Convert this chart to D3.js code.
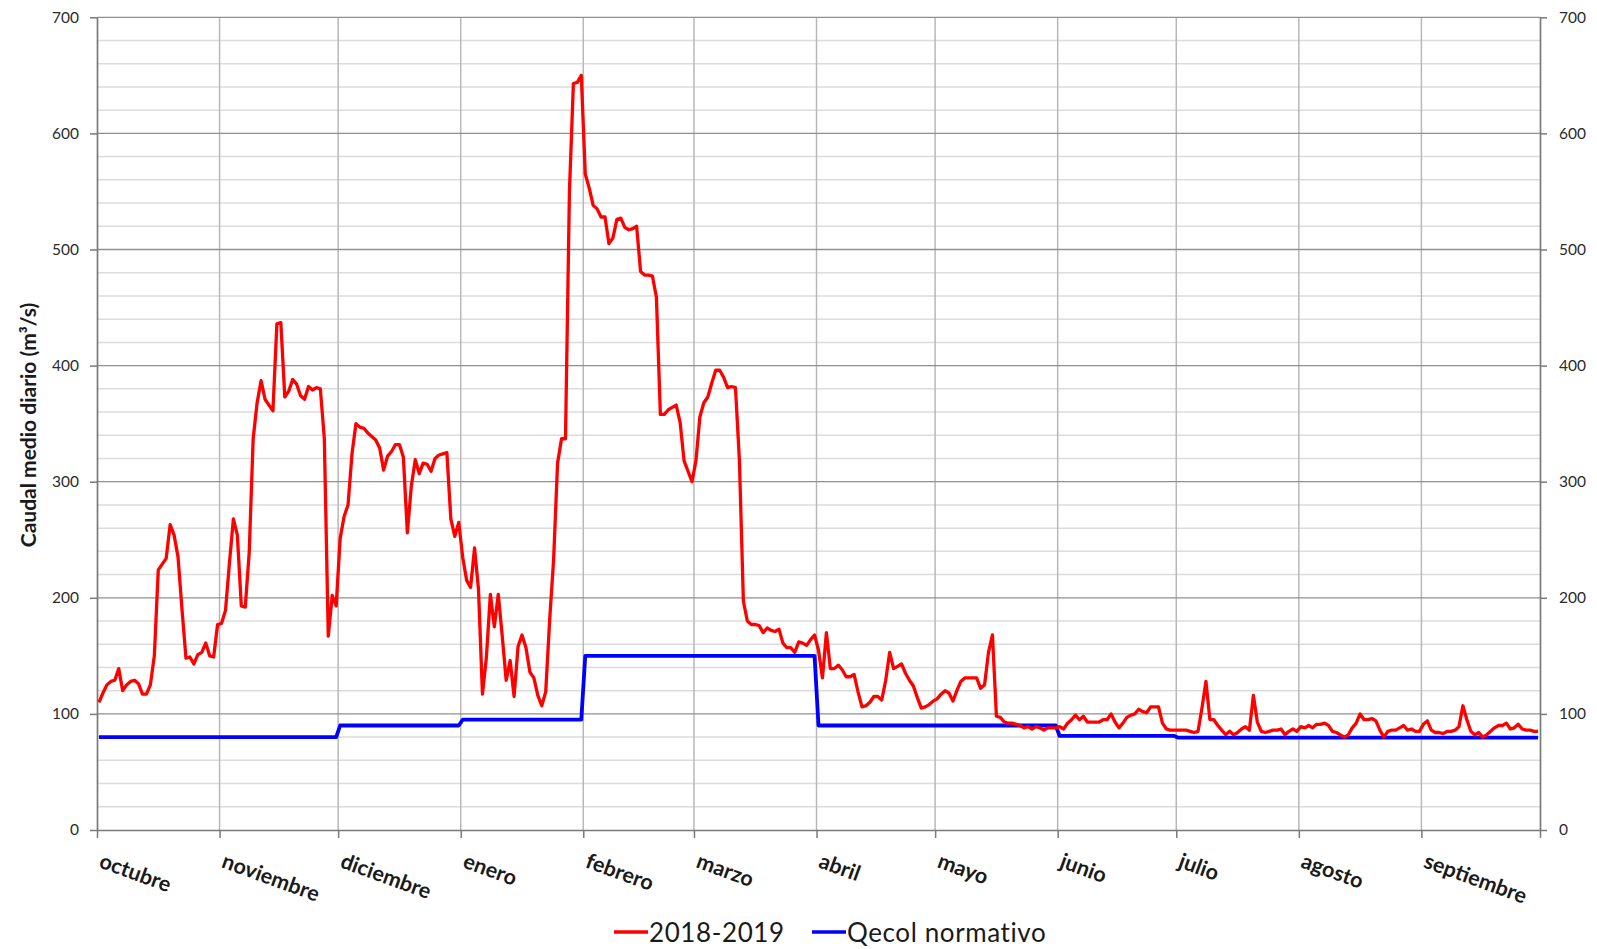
<!DOCTYPE html>
<html>
<head>
<meta charset="utf-8">
<script src="https://cdn.jsdelivr.net/npm/d3@7"></script>
<style>
  html, body { margin: 0; padding: 0; background: #ffffff; }
  svg { display: block; font-family: Lato, "Open Sans", "Liberation Sans", sans-serif; }
</style>
</head>
<body>
<svg id="chart" width="1597" height="949"></svg>
<script>
// Año hidrológico 2018-2019: caudal medio diario (m³/s), un array por mes
const meses = ["octubre", "noviembre", "diciembre", "enero", "febrero", "marzo",
               "abril", "mayo", "junio", "julio", "agosto", "septiembre"];
const diasMes = [31, 30, 31, 31, 28, 31, 30, 31, 30, 31, 31, 30];

const caudalOct = [110,118,125,128,129,139,120,125,128,129,126,117,117,125,150,224,229,234,263,254,235,190,148,149,143,151,153,161,150,149,177];
const caudalNov = [178,189,230,268,254,193,192,239,337,368,387,371,366,361,436,437,373,378,388,384,374,371,382,379,381,380,337,167,202,193];
const caudalDic = [251,270,280,324,350,347,346,342,339,336,329,310,322,326,332,332,321,256,296,319,307,316,315,309,320,323,324,325,268,253,265];
const caudalEne = [235,215,209,243,207,117,149,203,175,203,167,129,146,115,158,168,157,136,131,116,107,119,181,233,316,337,337,550,643,644,650];
const caudalFeb = [565,553,538,535,528,528,505,510,526,527,519,517,518,520,481,478,478,477,459,358,358,362,364,366,351,318,309,300];
const caudalMar = [318,356,368,373,385,396,396,390,381,382,381,318,197,180,177,177,176,170,174,172,171,173,161,157,157,153,162,161,159,164,168];
const caudalAbr = [155,131,170,139,139,142,138,132,132,134,119,106,107,110,115,115,112,129,153,139,141,143,135,129,124,114,105,106,108,111];
const caudalMay = [113,117,120,118,111,120,128,131,131,131,131,122,125,153,168,98,97,93,92,92,91,90,88,89,87,89,88,86,88,88,88];
const caudalJun = [89,87,92,95,99,95,98,93,93,93,93,95,95,100,93,88,92,97,99,100,104,102,101,106,106,106,92,87,86,86];
const caudalJul = [86,86,86,85,84,85,105,128,95,95,90,86,82,85,82,84,87,89,86,116,93,85,84,85,86,86,87,82,85,87,85];
const caudalAgo = [89,88,90,88,91,91,92,90,85,84,82,80,82,88,92,100,95,95,96,94,86,80,85,86,86,88,90,86,87,85,85];
const caudalSep = [91,94,86,84,84,83,85,85,86,89,107,95,85,82,84,80,82,85,88,90,90,92,87,88,91,87,86,86,85,85];

// Caudal ecológico normativo, constante en cada mes
const qecolMensual = [80, 80, 90, 95, 150, 150, 90, 90, 81, 79.5, 79.5, 79.5];

const yTicks = [0, 100, 200, 300, 400, 500, 600, 700];
const yMinorStep = 20;

const serieNombre = "2018-2019";
const qecolNombre = "Qecol normativo";
const yTitulo = "Caudal medio diario (m³/s)";

// ---- series diarias ----
const caudal = [].concat(caudalOct, caudalNov, caudalDic, caudalEne, caudalFeb, caudalMar,
                         caudalAbr, caudalMay, caudalJun, caudalJul, caudalAgo, caudalSep);
const inicioMes = Array.from(d3.cumsum([0].concat(diasMes))); // 13 bordes, incluye fin de año
const totalDias = inicioMes[12];
const qecol = [];
diasMes.forEach((n, m) => { for (let i = 0; i < n; i++) qecol.push(qecolMensual[m]); });

// ---- geometría ----
const svg = d3.select("#chart");
const pxIzq = 97, pxDer = 1540, pxSup = 17.3, pxInf = 830;

const x = d3.scaleLinear().domain([0, totalDias]).range([pxIzq, pxDer]);
const y = d3.scaleLinear().domain([0, 700]).range([pxInf, pxSup]);

// rejilla secundaria (cada 20)
const minor = d3.range(0, 701, yMinorStep).filter(v => v % 100 !== 0);
svg.append("g").selectAll("line").data(minor).join("line")
  .attr("x1", pxIzq).attr("x2", pxDer)
  .attr("y1", d => y(d)).attr("y2", d => y(d))
  .attr("stroke", "#dcdcdc").attr("stroke-width", 1.5);

// rejilla vertical en el inicio de cada mes
svg.append("g").selectAll("line").data(inicioMes.slice(1, 12)).join("line")
  .attr("x1", d => x(d)).attr("x2", d => x(d))
  .attr("y1", pxSup).attr("y2", pxInf)
  .attr("stroke", "#b8b8b8").attr("stroke-width", 1.5);

// rejilla principal (cada 100)
svg.append("g").selectAll("line").data(yTicks.filter(v => v > 0)).join("line")
  .attr("x1", pxIzq).attr("x2", pxDer)
  .attr("y1", d => y(d)).attr("y2", d => y(d))
  .attr("stroke", "#8f8f8f").attr("stroke-width", 1.3);

// ejes
function estiloEje(g) {
  g.select(".domain").attr("stroke", "#7a7a7a").attr("stroke-width", 1.7);
  g.selectAll(".tick line").attr("stroke", "#7a7a7a").attr("stroke-width", 1.5);
  g.selectAll(".tick text").attr("fill", "#2b2b2b").style("font-size", "15.5px")
    .style("font-family", "Lato, 'Open Sans', sans-serif");
}

svg.append("g").attr("transform", `translate(${pxIzq},0)`)
  .call(d3.axisLeft(y).tickValues(yTicks).tickSize(7).tickPadding(11).tickSizeOuter(0))
  .call(estiloEje);

svg.append("g").attr("transform", `translate(${pxDer},0)`)
  .call(d3.axisRight(y).tickValues(yTicks).tickSize(7).tickPadding(12).tickSizeOuter(0))
  .call(estiloEje);

svg.append("g").attr("transform", `translate(0,${pxInf})`)
  .call(d3.axisBottom(x).tickValues(inicioMes).tickSize(8).tickFormat("").tickSizeOuter(0))
  .call(estiloEje);

// etiquetas de mes inclinadas
svg.append("g").selectAll("text").data(meses).join("text")
  .attr("transform", (d, i) => `translate(${x(inicioMes[i]) + 1},${pxInf + 37}) rotate(20)`)
  .attr("text-anchor", "start")
  .attr("fill", "#1a1a1a")
  .style("font-size", "21.5px")
  .style("font-weight", "bold")
  .text(d => d);

// título del eje Y
svg.append("text")
  .attr("transform", `translate(27,425) rotate(-90)`)
  .attr("text-anchor", "middle")
  .attr("dominant-baseline", "central")
  .attr("fill", "#1a1a1a")
  .style("font-size", "21px")
  .style("font-weight", "bold")
  .text(yTitulo);

// líneas de datos (cada día en el centro de su intervalo)
const linea = d3.line().x((d, i) => x(i + 0.5)).y(d => y(d));

svg.append("path").datum(qecol)
  .attr("d", linea).attr("fill", "none")
  .attr("stroke", "#0000ff").attr("stroke-width", 3.8)
  .attr("stroke-linejoin", "round");

svg.append("path").datum(caudal)
  .attr("d", linea).attr("fill", "none")
  .attr("stroke", "#ff0000").attr("stroke-width", 3.3)
  .attr("stroke-linejoin", "round");

// leyenda
const leyenda = [
  { nombre: serieNombre, color: "#ff0000", x0: 614 },
  { nombre: qecolNombre, color: "#0000ff", x0: 812 }
];
const ly = 932;
const lg = svg.append("g").selectAll("g").data(leyenda).join("g");
lg.append("line")
  .attr("x1", d => d.x0).attr("x2", d => d.x0 + 34)
  .attr("y1", ly).attr("y2", ly)
  .attr("stroke", d => d.color).attr("stroke-width", 3.3);
lg.append("text")
  .attr("x", d => d.x0 + 35).attr("y", ly)
  .attr("dominant-baseline", "central")
  .attr("fill", "#1a1a1a")
  .style("font-size", "26px")
  .style("letter-spacing", "0.6px")
  .text(d => d.nombre);
</script>
</body>
</html>
